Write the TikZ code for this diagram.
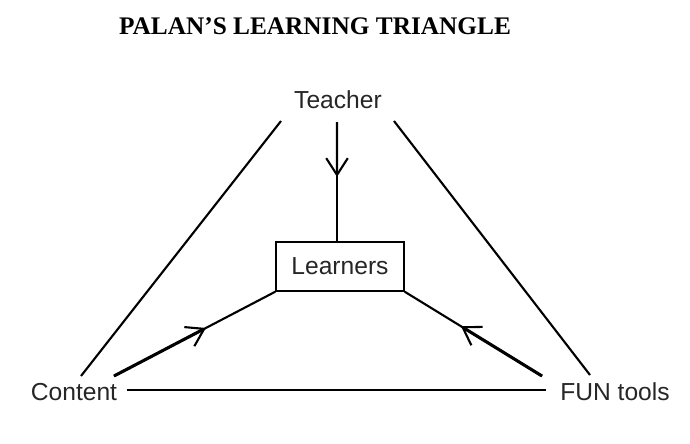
\documentclass[tikz,border=0pt]{standalone}
\usepackage{fontspec}
\setmainfont{Liberation Serif}
\setsansfont{Liberation Sans}
\usepackage{tikz}
\usetikzlibrary{arrows.meta, calc}

\begin{document}
\begin{tikzpicture}[
    x=0.025cm, y=-0.025cm,
    role/.style={font=\sffamily\fontsize{17.5}{19}\selectfont, text=black!85},
    learnbox/.style={draw, line width=1pt, minimum width=3.2cm, minimum height=1.225cm, font=\sffamily\fontsize{17.5}{19}\selectfont, text=black!85},
    edge/.style={line width=1.5pt},
    push/.style={line width=2.2pt, -{Straight Barb[length=4.2mm, width=5.4mm, line width=1.5pt]}},
]
\useasboundingbox (0,0) rectangle (690,443);
\node[font=\bfseries\fontsize{18}{20}\selectfont] (title) at (315,26) {PALAN'S LEARNING TRIANGLE};
\node[role] (teacher) at (338,100) {Teacher};
\node[learnbox] (learn) at (340,266.5) {Learners};
\node[role] (content) at (74,392) {Content};
\node[role] (fun) at (615,392) {FUN tools};
\coordinate (tl) at (281,121);
\coordinate (tm) at (337,122);
\coordinate (tr) at (394,121);
\coordinate (cl) at (81,376);
\coordinate (ca) at (114,376);
\coordinate (fa) at (542,376);
\coordinate (fr) at (590,375);
\coordinate (bl) at (127,390);
\coordinate (br) at (546,390);
% outer triangle
\draw[edge] (tl) -- (cl);
\draw[edge] (tr) -- (fr);
\draw[edge] (bl) -- (br);
% teacher to learners
\draw[edge] (tm) -- (learn.north -| tm);
\draw[edge, -{Straight Barb[length=4.2mm, width=5.4mm]}] (tm) -- ($(tm)!0.46!(learn.north -| tm)$);
% content and tools to learners
\draw[edge] (ca) -- (learn.south west);
\draw[push] (ca) -- ($(ca)!0.57!(learn.south west)$);
\draw[edge] (fa) -- (learn.south east);
\draw[push] (fa) -- ($(fa)!0.59!(learn.south east)$);
\end{tikzpicture}
\end{document}
